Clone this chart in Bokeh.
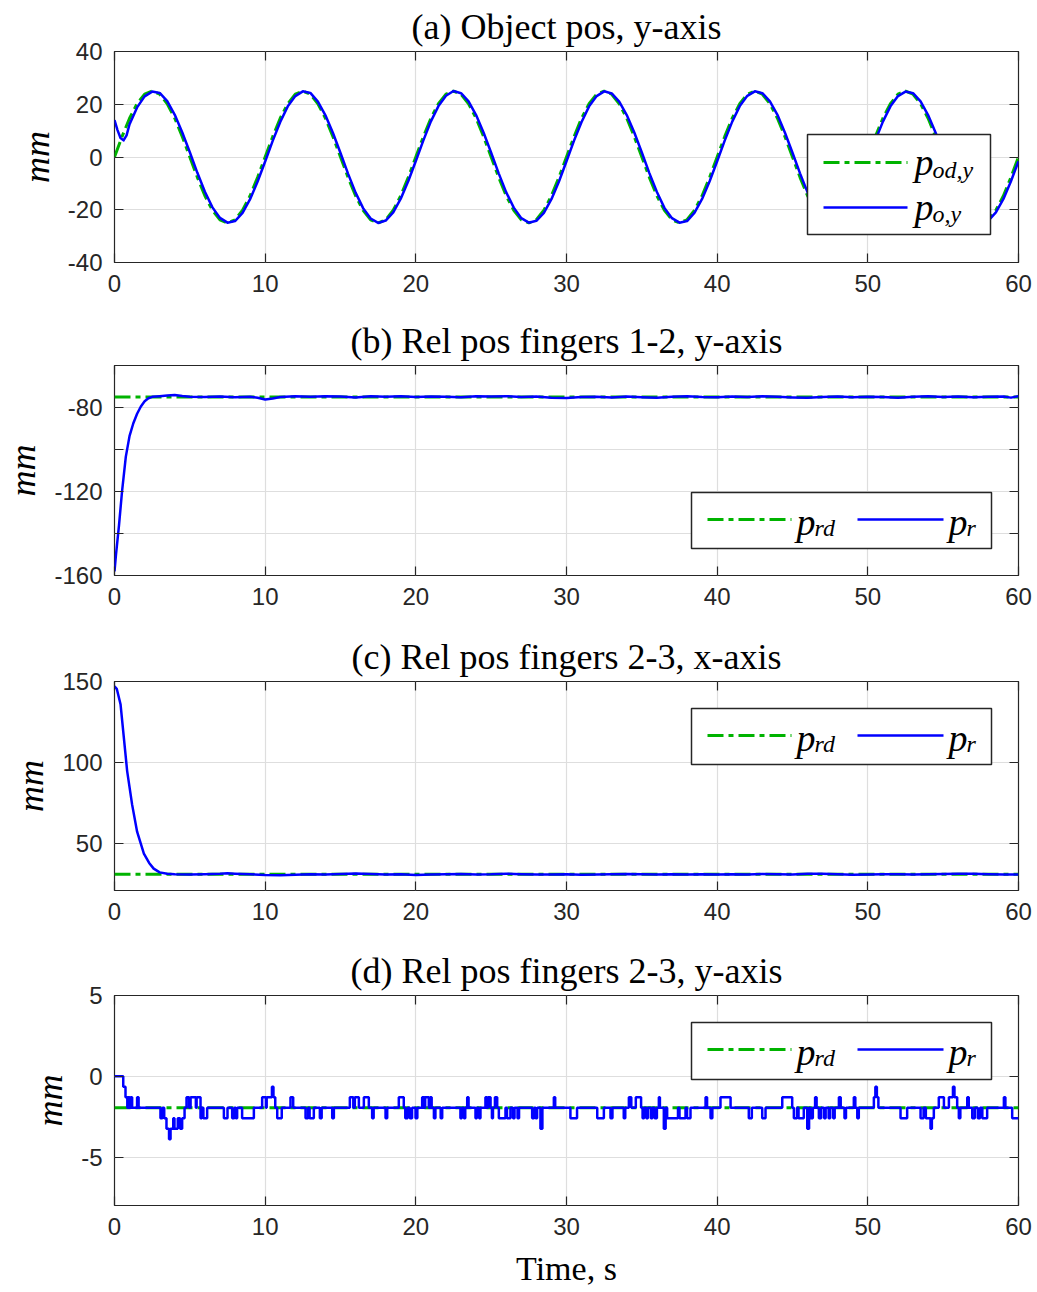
import numpy as np
from bokeh.plotting import figure
from bokeh.layouts import column
from bokeh.models import Range1d, FixedTicker, LinearAxis, BoxAnnotation, Label, Arrow
from bokeh.embed import file_html
from bokeh.resources import INLINE

GREEN = "#00b300"
BLUE = "#0000ff"
AX = "#262626"
GRID = "#dedede"
SERIF = "Liberation Serif"
SANS = "Liberation Sans"

# ---------------- data ----------------
titles = ["(a) Object pos, y-axis", "(b) Rel pos fingers 1-2, y-axis",
          "(c) Rel pos fingers 2-3, x-axis", "(d) Rel pos fingers 2-3, y-axis"]
x_label = "Time, s"
y_label = "mm"
x_ticks = [0, 10, 20, 30, 40, 50, 60]
x_tick_labels = ["0", "10", "20", "30", "40", "50", "60"]
a_yticks = [-40, -20, 0, 20, 40]
a_ylabels = ["-40", "-20", "0", "20", "40"]
b_yticks = [-160, -140, -120, -100, -80, -60]
b_ylabels = ["-160", "", "-120", "", "-80", ""]
c_yticks = [50, 100, 150]
c_ylabels = ["50", "100", "150"]
d_yticks = [-5, 0, 5]
d_ylabels = ["-5", "0", "5"]

# (a) object position, desired (green) and measured (blue)
a_des_t = np.arange(0, 60.01, 0.5)
a_des_v = [0, 7.7, 14.7, 20.2, 23.8, 25.0, 23.8, 20.2, 14.7, 7.7, 0, -7.7, -14.7, -20.2, -23.8, -25.0, -23.8, -20.2, -14.7, -7.7,
           0, 7.7, 14.7, 20.2, 23.8, 25.0, 23.8, 20.2, 14.7, 7.7, 0, -7.7, -14.7, -20.2, -23.8, -25.0, -23.8, -20.2, -14.7, -7.7,
           0, 7.7, 14.7, 20.2, 23.8, 25.0, 23.8, 20.2, 14.7, 7.7, 0, -7.7, -14.7, -20.2, -23.8, -25.0, -23.8, -20.2, -14.7, -7.7,
           0, 7.7, 14.7, 20.2, 23.8, 25.0, 23.8, 20.2, 14.7, 7.7, 0, -7.7, -14.7, -20.2, -23.8, -25.0, -23.8, -20.2, -14.7, -7.7,
           0, 7.7, 14.7, 20.2, 23.8, 25.0, 23.8, 20.2, 14.7, 7.7, 0, -7.7, -14.7, -20.2, -23.8, -25.0, -23.8, -20.2, -14.7, -7.7,
           0, 7.7, 14.7, 20.2, 23.8, 25.0, 23.8, 20.2, 14.7, 7.7, 0, -7.7, -14.7, -20.2, -23.8, -25.0, -23.8, -20.2, -14.7, -7.7,
           0]
a_meas_t = np.concatenate([[0, 0.2, 0.4, 0.6, 0.8, 1.0], np.arange(1.5, 60.01, 0.5)])
a_meas_v = [14.0, 10.2, 7.2, 6.3, 8.2, 12.4,
            18.8, 23.0, 24.8, 24.3, 21.2, 16.0, 9.3, 1.8, -6.0, -13.2, -19.1, -23.1, -24.9, -24.3, -21.2, -16.0, -9.3,
            -1.7, 6.1, 13.3, 19.2, 23.1, 24.9, 24.3, 21.0, 15.8, 9.1, 1.5, -6.3, -13.5, -19.4, -23.3, -25.0, -24.1, -21.0, -15.8, -9.1,
            -1.5, 6.3, 13.5, 19.3, 23.2, 25.0, 24.2, 21.1, 15.9, 9.2, 1.6, -6.2, -13.4, -19.2, -23.2, -24.9, -24.2, -21.2, -16.0, -9.3,
            -1.6, 6.2, 13.3, 19.2, 23.1, 24.9, 24.1, 21.0, 15.9, 9.3, 1.7, -6.1, -13.3, -19.3, -23.2, -24.9, -24.3, -21.1, -15.9, -9.2,
            -1.6, 6.2, 13.4, 19.3, 23.2, 24.9, 24.2, 21.1, 16.0, 9.2, 1.6, -6.2, -13.4, -19.3, -23.1, -24.9, -24.2, -21.0, -15.8, -9.1,
            -1.5, 6.3, 13.4, 19.2, 23.1, 24.8, 24.2, 21.1, 15.9, 9.2, 1.5, -6.3, -13.5, -19.3, -23.2, -24.9, -24.1, -21.0, -15.9, -9.2,
            -1.6]

# (b) relative position fingers 1-2, y
b_des_t = [0, 60]
b_des_v = [-75.0, -75.0]
b_meas_t = [0, 0.1, 0.3, 0.5, 0.75, 1.0, 1.25, 1.5, 1.75, 2.0, 2.25, 2.5, 3.0, 3.5, 4.0, 4.5,
            5, 6, 7, 8, 9, 9.5, 10, 10.5,
            11, 12, 13, 14, 15, 16, 17, 18, 19, 20, 21, 22, 23, 24, 25, 26, 27, 28, 29, 30,
            31, 32, 33, 34, 35, 36, 37, 38, 39, 40, 41, 42, 43, 44, 45, 46, 47, 48, 49, 50,
            51, 52, 53, 54, 55, 56, 57, 58, 59, 59.5, 60]
b_meas_v = [-158, -150, -136, -120, -103.5, -93.5, -87.5, -83.0, -79.5, -77.0, -75.6, -74.9, -74.6, -74.3, -74.0, -74.5,
            -74.9, -75.0, -74.8, -75.1, -74.9, -75.4, -76.2, -75.7,
            -75.0, -74.7, -74.9, -74.6, -74.8, -75.2, -74.7, -74.9, -74.6, -75.0,
            -74.8, -74.9, -75.1, -74.7, -74.8, -74.6, -75.0, -74.8, -75.3, -75.5,
            -75.0, -74.9, -75.2, -74.8, -75.1, -75.3, -74.9, -74.7, -75.0, -75.1,
            -74.8, -75.0, -74.7, -74.9, -75.2, -75.4, -75.0, -74.8, -75.1, -74.9,
            -75.0, -75.3, -74.9, -74.7, -75.0, -74.8, -75.1, -74.9, -74.8, -75.3, -74.6]

# (c) relative position fingers 2-3, x
c_des_t = [0, 60]
c_des_v = [31.0, 31.0]
c_meas_t = [0, 0.15, 0.4, 0.62, 0.84, 1.17, 1.5, 1.95, 2.3, 2.6, 3.0, 3.5, 4,
            5, 6, 7, 7.5, 8, 9, 10,
            11, 12, 13, 14, 15, 16, 17, 18, 19, 20, 21, 22, 23, 24, 25, 26, 27, 28, 29, 30,
            31, 32, 33, 34, 35, 36, 37, 38, 39, 40, 41, 42, 43, 44, 45, 46, 47, 48, 49, 50,
            51, 52, 53, 54, 55, 56, 57, 58, 59, 60]
c_meas_v = [147, 145.5, 136, 115.4, 94.7, 74.0, 57.3, 43.8, 38.0, 34.5, 32.2, 31.3, 31.0,
            30.9, 31.0, 31.3, 31.6, 31.4, 31.0, 30.5,
            30.4, 30.7, 31.0, 30.9, 31.2, 31.5, 31.2, 30.9, 31.0, 30.6,
            30.8, 31.0, 31.2, 30.9, 31.0, 31.4, 31.1, 30.8, 30.9, 31.0,
            30.7, 30.8, 31.0, 31.2, 31.0, 30.9, 31.1, 30.9, 31.0, 30.8,
            31.0, 30.9, 31.2, 31.0, 30.8, 31.3, 31.4, 31.0, 30.7, 30.8,
            31.0, 31.1, 30.9, 31.0, 31.2, 31.4, 31.3, 31.0, 30.9, 30.8]

# (d) relative position fingers 2-3, y (quantised sensor steps)
d_des_t = [0, 60]
d_des_v = [-1.95, -1.95]
d_meas_t = [0.0, 0.58, 0.73, 0.85, 0.92, 1.0, 1.08, 1.17, 1.5, 1.6,
            3.05, 3.18, 3.3, 3.45, 3.62, 3.72, 3.9, 3.98, 4.2, 4.35, 4.49, 4.65, 4.78, 4.95, 5.05, 5.4, 5.45,
            5.71, 5.8, 5.9, 6.15, 7.26, 7.5, 7.81, 7.95, 8.05, 8.14, 8.47, 9.25,
            9.8, 10.05, 10.1, 10.45, 10.55, 10.67, 10.8, 11.1, 11.68, 11.86,
            12.68, 12.85, 12.95, 13.23, 13.63, 13.75, 14.45, 14.56,
            15.62, 15.85, 15.95, 16.22, 16.55, 16.88, 17.1, 17.2, 17.99, 18.1,
            18.87, 19.2, 19.3, 19.45, 19.6, 19.75, 19.98, 20.1,
            20.42, 20.55, 20.62, 20.86, 20.95, 21.05, 21.2, 21.3, 21.65, 21.75,
            22.96, 23.05, 23.19, 23.28, 23.41, 23.5, 23.96, 24.05, 24.2, 24.29,
            24.62, 24.72, 24.8, 24.96, 25.05, 25.12, 25.25, 25.4, 25.51, 25.95,
            26.05, 26.28, 26.45, 26.55, 26.75, 26.85, 27.72, 27.85, 27.95, 28.05,
            28.27, 28.4, 29.16, 29.25, 30.26, 30.7, 32.04, 32.48, 32.92, 33.05,
            33.8, 33.9, 34.14, 34.3, 34.6, 34.95, 35.05, 35.15, 35.3, 35.4,
            35.6, 35.7, 35.85, 36.0, 36.13, 36.2, 36.46, 36.58, 36.68, 37.4,
            37.5, 37.9, 38.0, 38.23, 39.23, 39.33, 39.56, 39.68, 40.22, 40.89,
            42.1, 42.3, 42.99, 43.21, 44.32, 44.98, 45.09, 45.3, 45.4, 45.75,
            45.98, 46.1, 46.2, 46.35, 46.5, 46.6, 46.75, 46.9, 47.1, 47.2,
            47.4, 47.5, 47.7, 47.8, 48.08, 48.2, 48.45, 48.55, 49.07, 49.17,
            49.3, 49.4, 50.4, 50.5, 50.6, 50.7, 52.17, 52.61, 53.5, 53.7,
            53.85, 54.16, 54.25, 54.38, 54.71, 55.05, 55.38, 55.65, 55.75, 55.93,
            56.04, 56.14, 56.6, 56.7, 56.93, 57.1, 57.3, 57.45, 57.6, 57.92,
            59.03, 59.13, 59.58, 60.0]
d_meas_v = [0.0, -0.65, -1.3, -1.95, -1.3, -1.95, -1.3, -1.95, -1.3, -1.95,
            -2.6, -1.95, -2.6, -3.25, -3.9, -3.25, -2.6, -3.25, -2.6, -3.25, -2.6, -1.95, -1.3, -1.95, -1.3, -1.95, -1.3,
            -2.6, -1.95, -2.6, -1.95, -2.6, -1.95, -2.6, -1.95, -2.6, -1.95, -2.6, -1.95,
            -1.3, -1.95, -1.3, -0.65, -1.3, -1.95, -2.6, -1.95, -1.3, -1.95,
            -2.6, -1.95, -2.6, -1.95, -2.6, -1.95, -2.6, -1.95,
            -1.3, -1.95, -1.3, -1.95, -1.3, -1.95, -2.6, -1.95, -2.6, -1.95,
            -1.3, -1.95, -2.6, -1.95, -2.6, -1.95, -2.6, -1.95,
            -1.3, -1.95, -1.3, -1.95, -1.3, -1.95, -2.6, -1.95, -2.6, -1.95,
            -2.6, -1.95, -2.6, -1.95, -1.3, -1.95, -2.6, -1.95, -2.6, -1.95,
            -1.3, -1.95, -1.3, -1.95, -2.6, -1.95, -1.3, -1.95, -2.6, -1.95,
            -2.6, -1.95, -2.6, -1.95, -2.6, -1.95, -2.6, -1.95, -2.6, -1.95,
            -3.25, -1.95, -1.3, -1.95, -2.6, -1.95, -2.6, -1.95, -2.6, -1.95,
            -2.6, -1.95, -1.3, -1.95, -1.3, -1.95, -2.6, -1.95, -2.6, -1.95,
            -2.6, -1.95, -2.6, -1.95, -1.3, -1.95, -3.25, -1.95, -2.6, -1.95,
            -2.6, -1.95, -2.6, -1.95, -1.3, -1.95, -2.6, -1.95, -1.3, -1.95,
            -2.6, -1.95, -2.6, -1.95, -1.3, -1.95, -2.6, -1.95, -2.6, -1.95,
            -3.25, -1.95, -2.6, -1.95, -1.3, -1.95, -2.6, -1.95, -2.6, -1.95,
            -2.6, -1.95, -2.6, -1.95, -1.3, -1.95, -2.6, -1.95, -1.3, -1.95,
            -2.6, -1.95, -1.3, -0.65, -1.3, -1.95, -2.6, -1.95, -2.6, -1.95,
            -2.6, -3.25, -2.6, -1.95, -1.3, -1.95, -1.3, -0.65, -1.3, -1.95,
            -2.6, -1.95, -1.3, -1.95, -2.6, -1.95, -2.6, -1.95, -2.6, -1.95,
            -1.3, -1.95, -2.6, -2.6]

# ---------------- layout constants ----------------
FIG_H = [314, 316, 314, 348]
BORDER_BOTTOM = [52, 55, 54, 87]
Y_RANGES = [(-40, 40), (-160, -60), (21, 150), (-8, 5)]
DASH = "16 5 5 5"


def make_fig(i, yticks, ylabels):
    p = figure(width=1037, height=FIG_H[i], x_range=Range1d(0, 60), y_range=Range1d(*Y_RANGES[i]),
               output_backend="svg", toolbar_location=None,
               min_border_left=114, min_border_right=19, min_border_top=51,
               min_border_bottom=BORDER_BOTTOM[i])
    p.background_fill_color = "white"
    p.border_fill_color = "white"
    p.outline_line_color = AX
    p.outline_line_width = 1.2
    p.title.text = titles[i]
    p.title.align = "center"
    p.title.text_font = SERIF
    p.title.text_font_size = "36px"
    p.title.text_font_style = "normal"
    p.title.text_color = "black"
    p.title.text_line_height = 1.0
    p.title.standoff = 9

    xt = FixedTicker(ticks=x_ticks)
    yt = FixedTicker(ticks=yticks)
    p.xaxis.ticker = xt
    p.yaxis.ticker = yt
    p.xaxis.major_label_overrides = dict(zip(x_ticks, x_tick_labels))
    p.yaxis.major_label_overrides = dict(zip(yticks, ylabels))
    for ax in (p.xaxis[0], p.yaxis[0]):
        ax.axis_line_color = None
        ax.major_tick_in = 9
        ax.major_tick_out = 0
        ax.major_tick_line_color = AX
        ax.major_tick_line_width = 1.2
        ax.minor_tick_line_color = None
        ax.major_label_text_font = SANS
        ax.major_label_text_font_size = "24px"
        ax.major_label_text_color = AX
    p.xaxis.major_label_standoff = 12
    p.yaxis.major_label_standoff = 12
    p.yaxis.axis_label = y_label
    p.yaxis.axis_label_text_font = SERIF
    p.yaxis.axis_label_text_font_style = "italic"
    p.yaxis.axis_label_text_font_size = "36px"
    p.yaxis.axis_label_text_color = "black"
    p.yaxis.axis_label_standoff = 8

    for loc, tk in (("right", yt), ("above", xt)):
        ax = LinearAxis(ticker=tk, axis_line_color=None, major_tick_in=9, major_tick_out=0,
                        major_tick_line_color=AX, major_tick_line_width=1.2,
                        minor_tick_line_color=None, major_label_text_font_size="1px",
                        major_label_text_color=None, major_label_text_alpha=0,
                        major_label_standoff=0)
        p.add_layout(ax, loc)

    p.xgrid.ticker = xt
    p.ygrid.ticker = yt
    p.xgrid.grid_line_color = GRID
    p.ygrid.grid_line_color = GRID
    p.xgrid.grid_line_width = 1.2
    p.ygrid.grid_line_width = 1.2
    return p


def add_legend(p, box, keys):
    p.add_layout(BoxAnnotation(left=box[0], right=box[1], bottom=box[2], top=box[3],
                               left_units="screen", right_units="screen",
                               bottom_units="screen", top_units="screen",
                               fill_color="white", fill_alpha=1.0,
                               line_color=AX, line_width=1.5, line_alpha=1.0))
    for (x0, x1, y, color, width, dash, px, py, sub, sx, sy) in keys:
        p.add_layout(Arrow(x_start=x0, y_start=y, x_end=x1, y_end=y,
                           start_units="screen", end_units="screen", start=None, end=None,
                           line_color=color, line_width=width, line_dash=dash))
        p.add_layout(Label(x=px, y=py, x_units="screen", y_units="screen", text="p",
                           text_font=SERIF, text_font_style="italic", text_font_size="38px",
                           text_color="black", text_baseline="alphabetic"))
        p.add_layout(Label(x=sx, y=sy, x_units="screen", y_units="screen", text=sub,
                           text_font=SERIF, text_font_style="italic", text_font_size="24px",
                           text_color="black", text_baseline="alphabetic"))


# (a)
pa = make_fig(0, a_yticks, a_ylabels)
pa.line(a_des_t, a_des_v, line_color=GREEN, line_width=3, line_dash=DASH)
pa.line(a_meas_t, a_meas_v, line_color=BLUE, line_width=2.5, line_join="round")
add_legend(pa, (693, 876, 28, 128), [
    (709, 793, 100, GREEN, 3, DASH, 800, 101, "od,y", 818, 93),
    (709, 793, 55, BLUE, 2.5, "solid", 800, 56, "o,y", 818, 49),
])

# (b)
pb = make_fig(1, b_yticks, b_ylabels)
pb.line(b_des_t, b_des_v, line_color=GREEN, line_width=3, line_dash=DASH)
pb.line(b_meas_t, b_meas_v, line_color=BLUE, line_width=2.5, line_join="round")
add_legend(pb, (577, 877, 27, 83), [
    (593, 677, 56, GREEN, 3, DASH, 682, 54, "rd", 700, 48),
    (743, 829, 56, BLUE, 2.5, "solid", 834, 54, "r", 852, 48),
])

# (c)
pc = make_fig(2, c_yticks, c_ylabels)
pc.line(c_des_t, c_des_v, line_color=GREEN, line_width=3, line_dash=DASH)
pc.line(c_meas_t, c_meas_v, line_color=BLUE, line_width=2.5, line_join="round")
add_legend(pc, (577, 877, 126, 182), [
    (593, 677, 155, GREEN, 3, DASH, 682, 153, "rd", 700, 147),
    (743, 829, 155, BLUE, 2.5, "solid", 834, 153, "r", 852, 147),
])

# (d)
pd_ = make_fig(3, d_yticks, d_ylabels)
pd_.line(d_des_t, d_des_v, line_color=GREEN, line_width=3, line_dash=DASH)
pd_.step(d_meas_t, d_meas_v, mode="after", line_color=BLUE, line_width=2.5)
add_legend(pd_, (577, 877, 126, 183), [
    (593, 677, 156, GREEN, 3, DASH, 682, 154, "rd", 700, 148),
    (743, 829, 156, BLUE, 2.5, "solid", 834, 154, "r", 852, 148),
])
bottom_axis = pd_.below[0]
bottom_axis.axis_label = x_label
bottom_axis.axis_label_text_font = SERIF
bottom_axis.axis_label_text_font_style = "normal"
bottom_axis.axis_label_text_font_size = "34px"
bottom_axis.axis_label_text_color = "black"
bottom_axis.axis_label_text_line_height = 1.0
bottom_axis.axis_label_standoff = 12

layout = column(pa, pb, pc, pd_, spacing=0)
open("out.html", "w").write(file_html(layout, INLINE))
